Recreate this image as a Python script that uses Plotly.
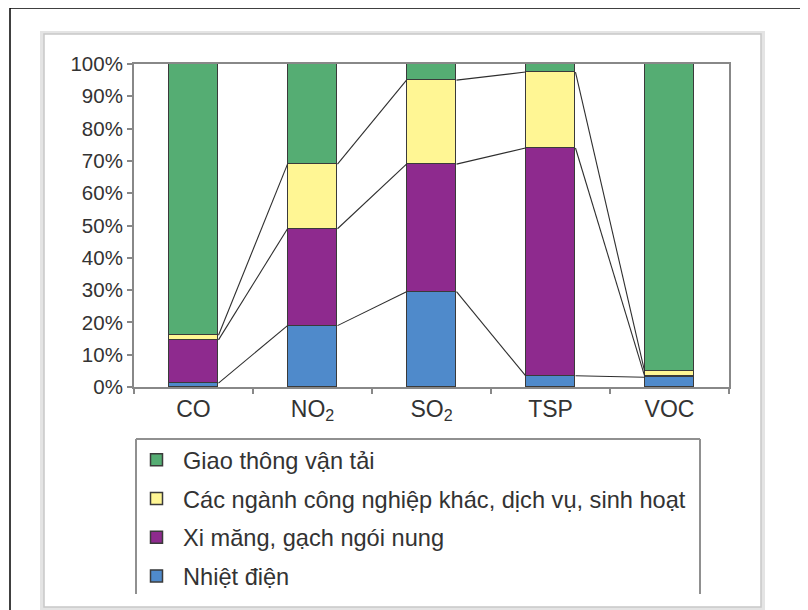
import plotly.graph_objects as go

categories = ["CO", "NO<sub>2</sub>", "SO<sub>2</sub>", "TSP", "VOC"]
series_names = ["Nhiệt điện", "Xi măng, gạch ngói nung",
                "Các ngành công nghiệp khác, dịch vụ, sinh hoạt", "Giao thông vận tải"]
nhiet_dien = [1.2, 19.0, 29.5, 3.5, 3.0]
xi_mang = [13.4, 30.0, 39.5, 70.5, 0.5]
cac_nganh = [1.4, 20.0, 26.0, 23.5, 1.5]
giao_thong = [84.0, 31.0, 5.0, 2.5, 95.0]
series_values = [nhiet_dien, xi_mang, cac_nganh, giao_thong]
colors = ["#4f8acb", "#8e2a8e", "#fff694", "#55ad73"]
y_ticks = [0, 10, 20, 30, 40, 50, 60, 70, 80, 90, 100]

OFF = 8  # page body margin
W, H = 808 - OFF, 610 - OFF
L, R, T, B = 134 - OFF, 729 - OFF, 64 - OFF, 387 - OFF
BW = 0.42

def xp(px):
    # px given in page (reference) pixels
    return (px - OFF - L) / (R - L)

def yp(py):
    return (B - (py - OFF)) / (B - T)

xs = list(range(len(categories)))
fig = go.Figure()

n = len(series_names)
for k, (name, vals, col) in enumerate(zip(series_names, series_values, colors)):
    fig.add_trace(go.Bar(
        x=xs, y=[v / 100 for v in vals], name=name, width=BW,
        marker=dict(color=col, line=dict(color="#3a3a3a", width=1.5)),
        legendgroup=name, legendrank=n - k,
    ))

# series lines connecting segment tops
cum = [0.0] * len(xs)
lx, ly = [], []
for vals in series_values[:-1]:
    cum = [c + v / 100 for c, v in zip(cum, vals)]
    for i in range(len(xs) - 1):
        lx += [xs[i] + BW / 2, xs[i + 1] - BW / 2, None]
        ly += [cum[i], cum[i + 1], None]
fig.add_trace(go.Scatter(x=lx, y=ly, mode="lines", showlegend=False,
                         line=dict(color="#2e2e2e", width=1.1), hoverinfo="skip"))

shapes = []
# outer black frame
shapes.append(dict(type="line", xref="paper", yref="paper", x0=xp(10), x1=xp(10), y0=yp(8), y1=yp(614),
                   line=dict(color="#000000", width=1.5), layer="below"))
shapes.append(dict(type="line", xref="paper", yref="paper", x0=xp(10), x1=xp(812), y0=yp(8), y1=yp(8),
                   line=dict(color="#000000", width=1.5), layer="below"))
# panel shadow + panel
shapes.append(dict(type="rect", xref="paper", yref="paper", x0=xp(40), x1=xp(765), y0=yp(31), y1=yp(612),
                   fillcolor="#e4e4e4", line=dict(width=0), layer="below"))
shapes.append(dict(type="rect", xref="paper", yref="paper", x0=xp(44), x1=xp(761), y0=yp(34), y1=yp(607),
                   fillcolor="#ffffff", line=dict(color="#c8c8c8", width=1.5), layer="below"))
# legend box (no bottom edge)
for (x0, y0, x1, y1) in [(136, 439, 136, 594), (136, 439, 700, 439), (700, 439, 700, 594)]:
    shapes.append(dict(type="line", xref="paper", yref="paper", x0=xp(x0), x1=xp(x1), y0=yp(y0), y1=yp(y1),
                       line=dict(color="#909090", width=2), layer="below"))

fig.update_layout(
    width=W, height=H,
    margin=dict(l=L, r=W - R, t=T, b=H - B, pad=0, autoexpand=False),
    paper_bgcolor="#ffffff", plot_bgcolor="rgba(0,0,0,0)",
    barmode="stack", bargap=0,
    font=dict(family="Liberation Sans, Arial, sans-serif", color="#333333"),
    shapes=shapes,
    showlegend=True,
    legend=dict(
        xref="container", yref="container", x=122 / W, y=1 - 430 / H,
        xanchor="left", yanchor="top",
        traceorder="grouped", tracegroupgap=5,
        itemwidth=43, bgcolor="rgba(0,0,0,0)", borderwidth=0,
        font=dict(size=23.6, color="#333333"),
    ),
    xaxis=dict(
        range=[-0.5, len(xs) - 0.5], tickvals=xs, ticktext=categories,
        ticks="", showgrid=False, zeroline=False,
        showline=True, linecolor="#888888", linewidth=2, mirror=True,
        tickfont=dict(size=23, color="#333333"),
        minor=dict(tickvals=[i - 0.5 for i in range(len(xs) + 1)], ticks="outside",
                   ticklen=5, tickcolor="#888888", tickwidth=1.5, showgrid=False),
        fixedrange=True,
    ),
    yaxis=dict(
        range=[0, 1], tickvals=[t / 100 for t in y_ticks], ticktext=[f"{t}%" for t in y_ticks],
        ticks="outside", ticklen=5, tickcolor="#888888", tickwidth=1.5,
        showgrid=False, zeroline=False,
        showline=True, linecolor="#888888", linewidth=2, mirror=True,
        tickfont=dict(size=20.5, color="#333333"),
        fixedrange=True,
    ),
)

fig.write_html("out.html")
